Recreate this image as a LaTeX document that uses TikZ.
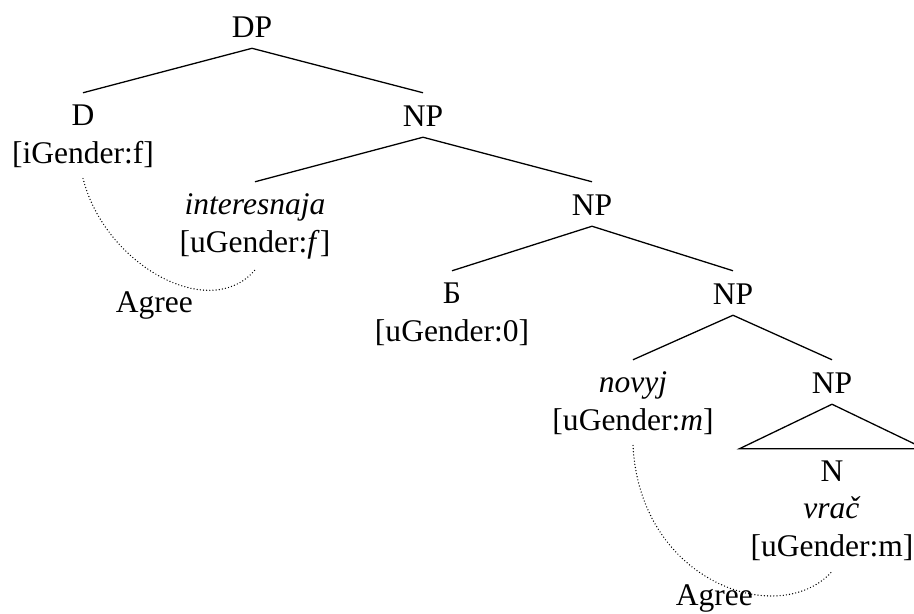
\documentclass[tikz,border=0pt]{standalone}
\usepackage{fontspec}
\setmainfont{Liberation Serif}
\usepackage{xcolor}
\usepackage{tikz}
\definecolor{ink}{RGB}{0,0,0}

\begin{document}
\begin{tikzpicture}[x=0.03cm,y=-0.03cm,
  every node/.style={font=\fontsize{26.9}{31.6}\selectfont,color=ink},
  tnode/.style={inner sep=0.33cm,text height=0.66cm,anchor=base,align=center},
  leaftwo/.style={tnode,text height=1.77cm},
  leafthree/.style={tnode,text height=2.88cm},
  branch/.style={line width=1.1pt,color=ink},
  agree/.style={line width=1.2pt,color=ink,dash pattern=on 0pt off 2.7pt,line cap=round},
  agreelabel/.style={inner sep=0pt,anchor=base east}]
  \useasboundingbox (0,0) rectangle (914,614);
  % tree nodes
  \node[tnode] (dp) at (252,37) {DP};
  \node[leaftwo] (d) at (83,163) {D\\{[}iGender:f]};
  \node[tnode] (np1) at (423,126) {NP};
  \node[leaftwo] (adja) at (255,252) {\textit{interesnaja}\\{[}uGender:\textit{f}]};
  \node[tnode] (np2) at (592,215) {NP};
  \node[leaftwo] (b) at (452,341) {Б\\{[}uGender:0]};
  \node[tnode] (np3) at (733,304) {NP};
  \node[leaftwo] (adjb) at (633,430) {\textit{novyj}\\{[}uGender:\textit{m}]};
  \node[tnode] (np4) at (832,393) {NP};
  \node[leafthree] (n) at (832,556) {N\\\textit{vrač}\\{[}uGender:m]};
  % branches
  \draw[branch] (dp.south) -- (d.north);
  \draw[branch] (dp.south) -- (np1.north);
  \draw[branch] (np1.south) -- (adja.north);
  \draw[branch] (np1.south) -- (np2.north);
  \draw[branch] (np2.south) -- (b.north);
  \draw[branch] (np2.south) -- (np3.north);
  \draw[branch] (np3.south) -- (adjb.north);
  \draw[branch] (np3.south) -- (np4.north);
  \draw[branch] (np4.south) -- (n.north west) -- (n.north east) -- cycle;
  % agree arcs
  \draw[agree] (d.south) .. controls +(22,87) and +(-45,53) .. (adja.south);
  \draw[agree] (adjb.south) .. controls +(7,138) and +(-52,58) .. (n.south);
  \node[agreelabel] (agree1) at (193,312) {Agree};
  \node[agreelabel] (agree2) at (753,605) {Agree};
\end{tikzpicture}
\end{document}
